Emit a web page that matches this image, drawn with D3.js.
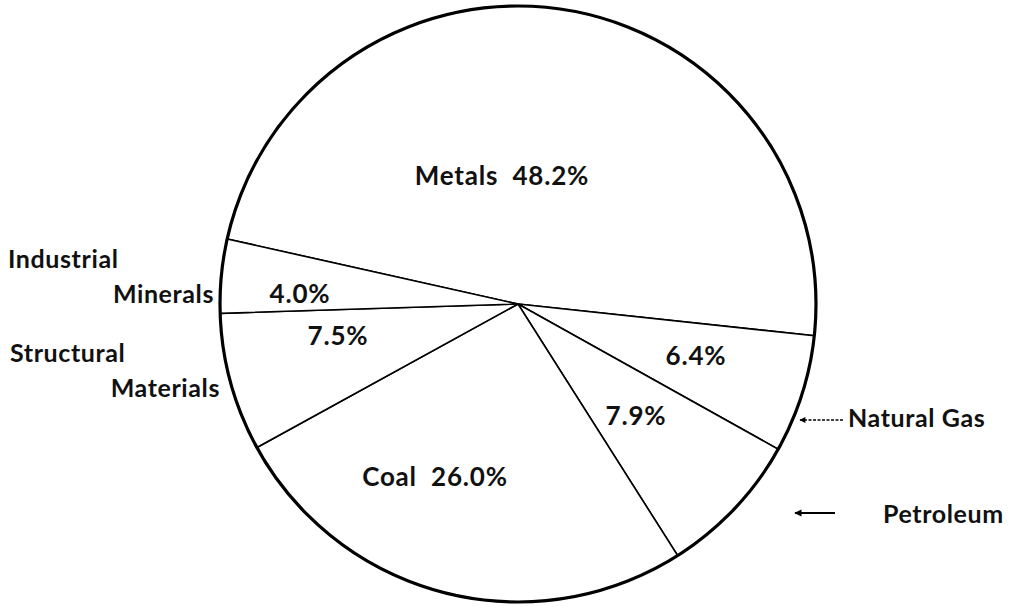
<!DOCTYPE html>
<html>
<head>
<meta charset="utf-8">
<script src="https://cdn.jsdelivr.net/npm/d3@7"></script>
<style>
  body { margin: 0; background: #fff; }
  text { font-family: "Lato", "DejaVu Sans", sans-serif; font-weight: 700; fill: #111; }
</style>
</head>
<body>
<div id="chart"></div>
<script>
// mineral production shares, clockwise from the upper-left edge
const categories = ["Metals", "Natural Gas", "Petroleum", "Coal", "Structural Materials", "Industrial Minerals"];
const shares = [48.2, 6.4, 7.9, 26.0, 7.5, 4.0];
const insideNames = ["Metals", "", "", "Coal", "", ""];

const width = 1012;
const height = 606;
const cx = 518, cy = 304, r = 298;
const startDeg = 282.6;

// where each percentage label sits, offset from the hub (px)
const labelOffsets = [[-16, -119], [178, 61], [118, 121], [-83, 182], [-180, 41], [-218, -1]];

const svg = d3.select('#chart')
    .append('svg')
    .attr('width', width)
    .attr('height', height);

const pie = d3.pie()
    .sort(null)
    .value(d => d)
    .startAngle(startDeg * Math.PI / 180)
    .endAngle(startDeg * Math.PI / 180 + 2 * Math.PI);

const arc = d3.arc().innerRadius(0).outerRadius(r);

const g = svg.append('g').attr('transform', `translate(${cx},${cy})`);

g.selectAll('path')
    .data(pie(shares))
    .join('path')
    .attr('d', arc)
    .attr('fill', '#fff')
    .attr('stroke', '#000')
    .attr('stroke-width', 1.6);

// heavier rim
g.append('circle')
    .attr('r', r)
    .attr('fill', 'none')
    .attr('stroke', '#000')
    .attr('stroke-width', 3.2);

g.selectAll('text.pct')
    .data(shares)
    .join('text')
    .attr('class', 'pct')
    .attr('x', (d, i) => labelOffsets[i][0])
    .attr('y', (d, i) => labelOffsets[i][1])
    .attr('text-anchor', 'middle')
    .attr('font-size', '26px')
    .attr('letter-spacing', '0.8px')
    .attr('xml:space', 'preserve')
    .text((d, i) => (insideNames[i] ? insideNames[i] + '  ' : '') + d.toFixed(1) + '%');

// outside category names
const outside = [
    { t: "Industrial", x: 8, y: 268, a: 'start' },
    { t: "Minerals", x: 214, y: 303, a: 'end' },
    { t: "Structural", x: 10, y: 362, a: 'start' },
    { t: "Materials", x: 220, y: 397, a: 'end' },
    { t: "Natural Gas", x: 848, y: 427, a: 'start' },
    { t: "Petroleum", x: 883, y: 523, a: 'start' }
];
svg.selectAll('text.out')
    .data(outside)
    .join('text')
    .attr('class', 'out')
    .attr('x', d => d.x)
    .attr('y', d => d.y)
    .attr('text-anchor', d => d.a)
    .attr('font-size', '25px')
    .attr('letter-spacing', '0.6px')
    .text(d => d.t);

svg.append('defs').append('marker')
    .attr('id', 'head')
    .attr('viewBox', '0 0 10 10')
    .attr('refX', 9).attr('refY', 5)
    .attr('markerWidth', 6).attr('markerHeight', 4)
    .attr('orient', 'auto')
    .append('path')
    .attr('d', 'M0,0 L10,5 L0,10 Z')
    .attr('fill', '#000');

svg.append('line')
    .attr('x1', 843).attr('y1', 420).attr('x2', 800).attr('y2', 420)
    .attr('stroke', '#000').attr('stroke-width', 1.5)
    .attr('stroke-dasharray', '3,1.5')
    .attr('marker-end', 'url(#head)');

svg.append('line')
    .attr('x1', 835).attr('y1', 513).attr('x2', 795).attr('y2', 513)
    .attr('stroke', '#000').attr('stroke-width', 1.8)
    .attr('marker-end', 'url(#head)');
</script>
</body>
</html>
